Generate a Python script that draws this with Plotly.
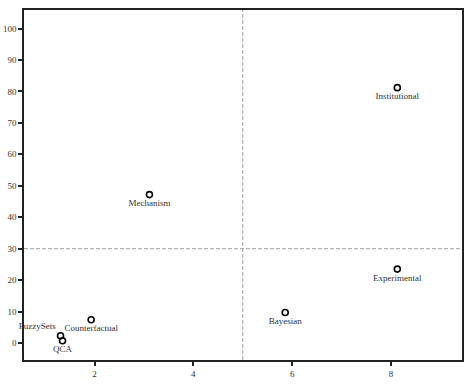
import plotly.graph_objects as go

names = ["FuzzySets", "QCA", "Counterfactual", "Mechanism", "Bayesian", "Experimental", "Institutional"]
x_vals = [1.31, 1.35, 1.93, 3.11, 5.86, 8.13, 8.13]
y_vals = [2.3, 0.7, 7.4, 47.2, 9.7, 23.5, 81.2]
text_pos = ["top left", "bottom center", "bottom center", "bottom center", "bottom center", "bottom center", "bottom center"]
x_ticks = [2, 4, 6, 8]
y_ticks = [0, 10, 20, 30, 40, 50, 60, 70, 80, 90, 100]
x_ref = 5
y_ref = 30

fig = go.Figure()
fig.add_trace(go.Scatter(
    x=x_vals, y=y_vals, mode="markers+text", text=names, textposition=text_pos,
    marker=dict(symbol="circle-open", size=6, color="black", line=dict(width=1.6)),
    textfont=dict(family="Liberation Serif", size=9, color="#333333"),
    showlegend=False, cliponaxis=False,
))
fig.add_vline(x=x_ref, line=dict(color="#a0a0a0", width=1, dash="4px,2px"))
fig.add_hline(y=y_ref, line=dict(color="#a0a0a0", width=1, dash="4px,2px"))

axis_common = dict(showgrid=False, zeroline=False, showline=True, linecolor="#222222", linewidth=1.5,
                   mirror=True, ticks="outside", ticklen=4, tickwidth=2, tickcolor="#222222",
                   tickfont=dict(family="Liberation Serif", size=9, color="#333333"))
fig.update_xaxes(range=[0.57, 9.44], tickvals=x_ticks, **axis_common)
fig.update_yaxes(range=[-5.4, 105.9], tickvals=y_ticks, **axis_common)
fig.update_layout(width=467, height=385, margin=dict(l=21, r=3, t=10, b=25),
                  plot_bgcolor="white", paper_bgcolor="white")
fig.write_html("out.html")
